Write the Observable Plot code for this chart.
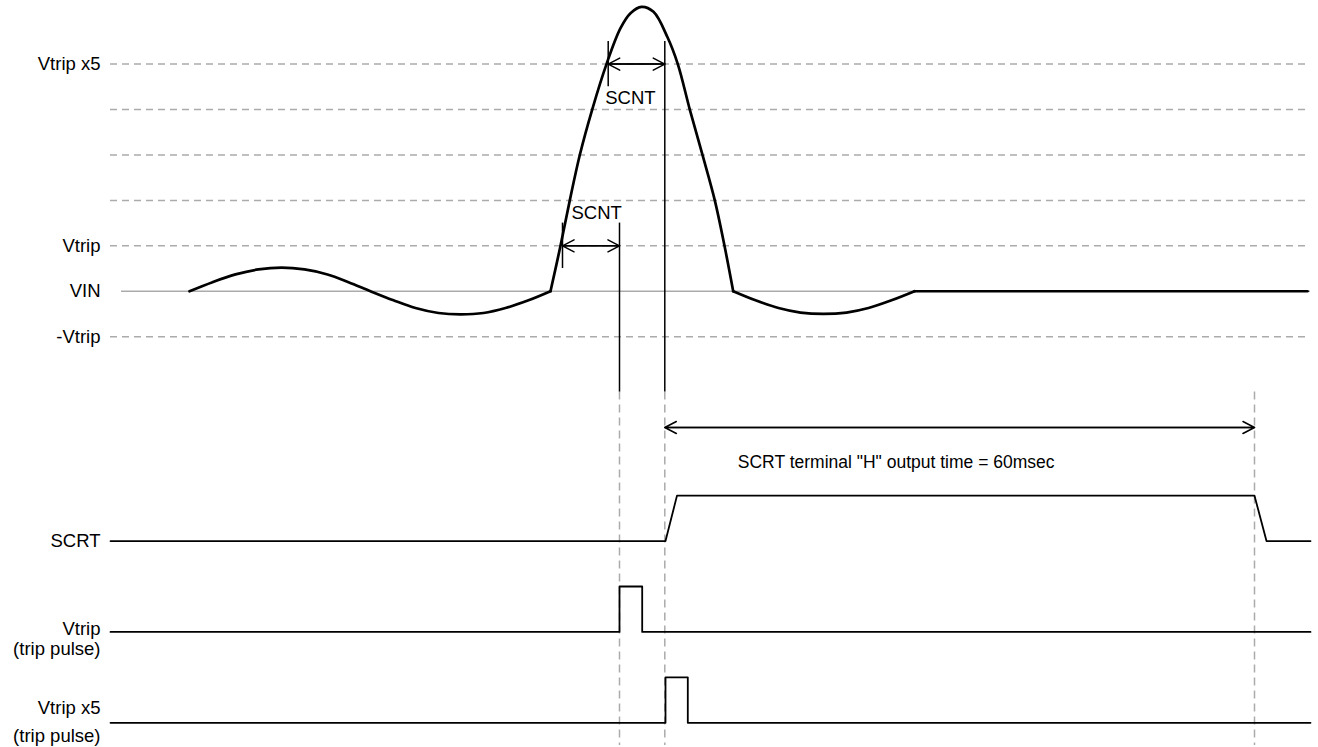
<!DOCTYPE html>
<html>
<head>
<meta charset="utf-8">
<script src="https://cdn.jsdelivr.net/npm/d3@7"></script>
<script src="https://cdn.jsdelivr.net/npm/@observablehq/plot@0.6"></script>
<style>
  html, body { margin: 0; padding: 0; background: #fff; }
  #chart svg { display: block; }
</style>
</head>
<body>
<div id="chart"></div>
<script>
// ---------- data (time axis in arbitrary units, level axis in Vtrip units) ----------
const levelValues = [5, 4, 3, 2, 1, -1];
const levelNames = ["Vtrip x5", "", "", "", "Vtrip", "-Vtrip"];
const vinLevel = 0;
const vinName = "VIN";

// input waveform VIN, split into segments
const vinT   = [79, 102, 125, 148, 171, 194, 217, 238, 260, 283, 305, 328, 350, 373, 395, 418, 440,
                440, 450, 459.3, 469.3, 481.7, 496, 510, 520, 531, 543, 557, 567.3, 579.3, 592, 604.3, 614, 622.7,
                622.7, 645, 668, 690, 713, 736, 758, 781, 804,
                804, 1197];
const vinV   = [0, 0.2, 0.37, 0.48, 0.52, 0.48, 0.37, 0.2, 0, -0.2, -0.37, -0.48, -0.51, -0.48, -0.37, -0.2, 0,
                0, 1, 2, 3, 4, 5, 5.79, 6.12, 6.26, 6.15, 5.59, 5, 4, 3, 2, 1, 0,
                0, -0.2, -0.37, -0.47, -0.5, -0.47, -0.37, -0.2, 0,
                0, 0];
const vinSeg = [..."aaaaaaaaaaaaaaaaa", ..."bbbbbbbbbbbbbbbbb", ..."ccccccccc", ..."dd"];

// digital tracks
const trackNames = ["SCRT", "Vtrip", "Vtrip x5"];
const trackSubNames = ["", "(trip pulse)", "(trip pulse)"];
const trackLow = [-5.5, -7.5, -9.5];

const scrtT = [0, 555, 566.5, 1144, 1156, 1200];
const scrtV = [-5.5, -5.5, -4.5, -4.5, -5.5, -5.5];
const tripT = [0, 509, 509, 531.7, 531.7, 1200];
const tripV = [-7.5, -7.5, -6.5, -6.5, -7.5, -7.5];
const trip5T = [0, 555, 555, 577.3, 577.3, 1200];
const trip5V = [-9.5, -9.5, -8.5, -8.5, -9.5, -9.5];

// timing markers
const scnt1Start = 452, scnt1End = 509;     // Vtrip crossing -> trip pulse
const scnt2Start = 497.7, scnt2End = 554.3; // Vtrip x5 crossing -> SCRT rise
const scrtEnd = 1144;                       // end of 60 msec output
const scntLabel = "SCNT";
const scrtLabel = 'SCRT terminal "H" output time = 60msec';
const timeDomain = [0, 1200];
const levelDomain = [-10, 6.4];

// ---------- build tables ----------
const vinData = vinT.map((t, i) => ({t, v: vinV[i], seg: vinSeg[i]}));
const sig = (T, V) => T.map((t, i) => ({t, v: V[i]}));
const levels = levelValues.map((v, i) => ({v, name: levelNames[i]}));
const tracks = trackNames.map((name, i) => ({name, sub: trackSubNames[i], v: trackLow[i]}));

const font = '"Liberation Sans", Arial, Helvetica, sans-serif';
const grey = "#ababab";
const dash = "7,5";

const chart = Plot.plot({
  width: 1318,
  height: 747,
  marginLeft: 110,
  marginRight: 8,
  marginTop: 0,
  marginBottom: 2,
  x: {domain: timeDomain, axis: null},
  y: {domain: levelDomain, axis: null},
  style: {fontFamily: font, background: "#fff", color: "#000"},
  marks: [
    // level grid lines
    Plot.ruleY(levels, {y: "v", x1: timeDomain[0], x2: timeDomain[1], stroke: grey, strokeWidth: 1.5, strokeDasharray: dash}),
    Plot.ruleY([vinLevel], {x1: 11, x2: timeDomain[1], stroke: grey, strokeWidth: 1.5}),
    // vertical dashed guides
    Plot.ruleX([scnt1End, scnt2End, scrtEnd], {y1: -2.22, y2: levelDomain[0], stroke: grey, strokeWidth: 1.5, strokeDasharray: "8,5"}),
    // vertical solid markers
    Plot.ruleX([scnt1End], {y1: 1.5, y2: -2.22, stroke: "#000", strokeWidth: 1.5}),
    Plot.ruleX([scnt2End], {y1: 5.5, y2: -2.22, stroke: "#000", strokeWidth: 1.5}),
    Plot.ruleX([scnt1Start], {y1: 1.5, y2: 0.5, stroke: "#000", strokeWidth: 1.5}),
    Plot.ruleX([scnt2Start], {y1: 5.5, y2: 4.5, stroke: "#000", strokeWidth: 1.5}),
    // waveform
    Plot.line(vinData, {x: "t", y: "v", z: "seg", curve: "catmull-rom", stroke: "#000", strokeWidth: 2.7}),
    // digital signals
    Plot.line(sig(scrtT, scrtV), {x: "t", y: "v", stroke: "#000", strokeWidth: 1.8}),
    Plot.line(sig(tripT, tripV), {x: "t", y: "v", stroke: "#000", strokeWidth: 1.8}),
    Plot.line(sig(trip5T, trip5V), {x: "t", y: "v", stroke: "#000", strokeWidth: 1.8}),
    // arrows (double headed = two arrows)
    ...[[scnt1Start, scnt1End, 1], [scnt2Start, scnt2End, 5], [scnt2End, scrtEnd, -3]].flatMap(([a, b, y]) => [
      Plot.arrow([{a, b, y}], {x1: "a", x2: "b", y1: "y", y2: "y", stroke: "#000", strokeWidth: 1.5, headLength: 13, headAngle: 55}),
      Plot.arrow([{a, b, y}], {x1: "b", x2: "a", y1: "y", y2: "y", stroke: "#000", strokeWidth: 1.5, headLength: 13, headAngle: 55})
    ]),
    // SCNT labels
    Plot.text([scntLabel], {x: scnt1Start, y: 1, dx: 9, dy: -33, text: d => d, textAnchor: "start", fontSize: 18.5, fill: "#000"}),
    Plot.text([scntLabel], {x: scnt2Start, y: 5, dx: -3, dy: 33.5, text: d => d, textAnchor: "start", fontSize: 18.5, fill: "#000"}),
    Plot.text([scrtLabel], {x: scnt2End, y: -3, dx: 73, dy: 35, text: d => d, textAnchor: "start", fontSize: 17.5, fill: "#000"}),
    // left labels
    Plot.text(levels.filter(d => d.name), {x: timeDomain[0], y: "v", text: "name", dx: -10, textAnchor: "end", fontSize: 18.5, fill: "#000"}),
    Plot.text([vinName], {x: timeDomain[0], y: vinLevel, text: d => d, dx: -10, textAnchor: "end", fontSize: 18.5, fill: "#000"}),
    Plot.text(tracks.slice(0, 1), {x: timeDomain[0], y: "v", text: "name", dx: -10, textAnchor: "end", fontSize: 18.5, fill: "#000"}),
    Plot.text(tracks.slice(1, 2), {x: timeDomain[0], y: "v", text: "name", dx: -10, dy: -3, textAnchor: "end", fontSize: 18.5, fill: "#000"}),
    Plot.text(tracks.slice(1, 2), {x: timeDomain[0], y: "v", text: "sub", dx: -10, dy: 17.5, textAnchor: "end", fontSize: 18.5, fill: "#000"}),
    Plot.text(tracks.slice(2), {x: timeDomain[0], y: "v", text: "name", dx: -10, dy: -15, textAnchor: "end", fontSize: 18.5, fill: "#000"}),
    Plot.text(tracks.slice(2), {x: timeDomain[0], y: "v", text: "sub", dx: -10, dy: 13, textAnchor: "end", fontSize: 18.5, fill: "#000"})
  ]
});
document.getElementById("chart").appendChild(chart);
</script>
</body>
</html>
